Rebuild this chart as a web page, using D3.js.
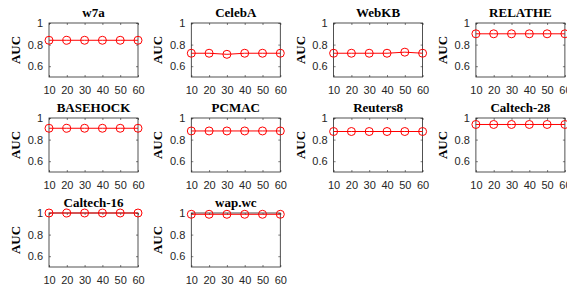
<!DOCTYPE html>
<meta charset="utf-8">
<head>
<style type="text/css">
  body { margin: 0; background: #fff; }
  .title { font-family: "Liberation Serif", Times, serif; font-weight: bold; font-size: 13px; }
  .ylab { font-family: "Liberation Serif", Times, serif; font-weight: bold; font-size: 13px; }
  .tick text { font-family: "Liberation Sans", Arial, sans-serif; font-size: 11px; fill: #262626; }
  .tick line, .domain { stroke: #262626; }
</style>
</head>
<script src="https://cdn.jsdelivr.net/npm/d3@7"></script>
<body>
<div id="vis"></div>
<script>
var width = 567,
    height = 290;

// data
var datasets = ["w7a", "CelebA", "WebKB", "RELATHE", "BASEHOCK", "PCMAC", "Reuters8", "Caltech-28", "Caltech-16", "wap.wc"];
var xValues = [10, 20, 30, 40, 50, 60];
var aucW7a = [0.84, 0.84, 0.84, 0.84, 0.84, 0.84];
var aucCelebA = [0.72, 0.72, 0.71, 0.72, 0.72, 0.72];
var aucWebKB = [0.72, 0.72, 0.72, 0.72, 0.73, 0.72];
var aucRelathe = [0.90, 0.90, 0.90, 0.90, 0.90, 0.90];
var aucBasehock = [0.905, 0.905, 0.905, 0.905, 0.905, 0.905];
var aucPcmac = [0.88, 0.88, 0.88, 0.88, 0.88, 0.88];
var aucReuters8 = [0.875, 0.875, 0.875, 0.875, 0.875, 0.875];
var aucCaltech28 = [0.94, 0.94, 0.94, 0.94, 0.94, 0.94];
var aucCaltech16 = [1.0, 1.0, 1.0, 1.0, 1.0, 1.0];
var aucWapwc = [0.988, 0.988, 0.988, 0.988, 0.988, 0.988];
var xTicks = [10, 20, 30, 40, 50, 60];
var yTicks = [0.6, 0.8, 1];

var series = [aucW7a, aucCelebA, aucWebKB, aucRelathe, aucBasehock, aucPcmac, aucReuters8, aucCaltech28, aucCaltech16, aucWapwc];

var svg = d3.select("#vis").append("svg")
    .attr("width", width)
    .attr("height", height);

var panelW = 89, panelH = 54;
var colStep = 142.3, rowStep = 95;

var x = d3.scaleLinear().domain([10, 60]).range([0, panelW]);
var y = d3.scaleLinear().domain([0.5, 1]).range([panelH, 0]);

datasets.forEach(function(name, i) {
  var col = i % 4, row = Math.floor(i / 4);
  var g = svg.append("g")
      .attr("transform", "translate(" + (49 + col * colStep) + "," + (23 + row * rowStep) + ")");

  // box
  g.append("rect")
      .attr("width", panelW).attr("height", panelH)
      .attr("fill", "none").attr("stroke", "#262626").attr("stroke-width", 0.8);

  // axes (inward ticks)
  g.append("g").attr("transform", "translate(0," + panelH + ")")
      .call(d3.axisBottom(x).tickValues(xTicks).tickSizeInner(-2).tickSizeOuter(0).tickPadding(9));
  g.append("g")
      .call(d3.axisTop(x).tickValues(xTicks).tickSizeInner(-2).tickSizeOuter(0).tickFormat(""));
  g.append("g")
      .call(d3.axisLeft(y).tickValues(yTicks).tickSizeInner(-2).tickSizeOuter(0).tickPadding(6).tickFormat(function(d) { return d === 1 ? "1" : d3.format(".1f")(d); }));
  g.append("g").attr("transform", "translate(" + panelW + ",0)")
      .call(d3.axisRight(y).tickValues(yTicks).tickSizeInner(-2).tickSizeOuter(0).tickFormat(""));
  g.selectAll(".domain").remove();
  g.selectAll(".tick line").attr("stroke-width", 0.6);

  // title
  g.append("text").attr("class", "title")
      .attr("x", panelW / 2).attr("y", -6)
      .attr("text-anchor", "middle")
      .text(name);

  // y label
  g.append("text").attr("class", "ylab")
      .attr("transform", "translate(-29," + (panelH / 2) + ") rotate(-90)")
      .attr("text-anchor", "middle")
      .text("AUC");

  var pts = xValues.map(function(v, j) { return [v, series[i][j]]; });
  var line = d3.line().x(function(d) { return x(d[0]); }).y(function(d) { return y(d[1]); });

  g.append("path").datum(pts)
      .attr("d", line)
      .attr("fill", "none").attr("stroke", "#ff0000").attr("stroke-width", 1);

  g.selectAll(".pt").data(pts).enter().append("circle")
      .attr("class", "pt")
      .attr("cx", function(d) { return x(d[0]); })
      .attr("cy", function(d) { return y(d[1]); })
      .attr("r", 4)
      .attr("fill", "none").attr("stroke", "#ff0000").attr("stroke-width", 1);
});
</script>
</body>
